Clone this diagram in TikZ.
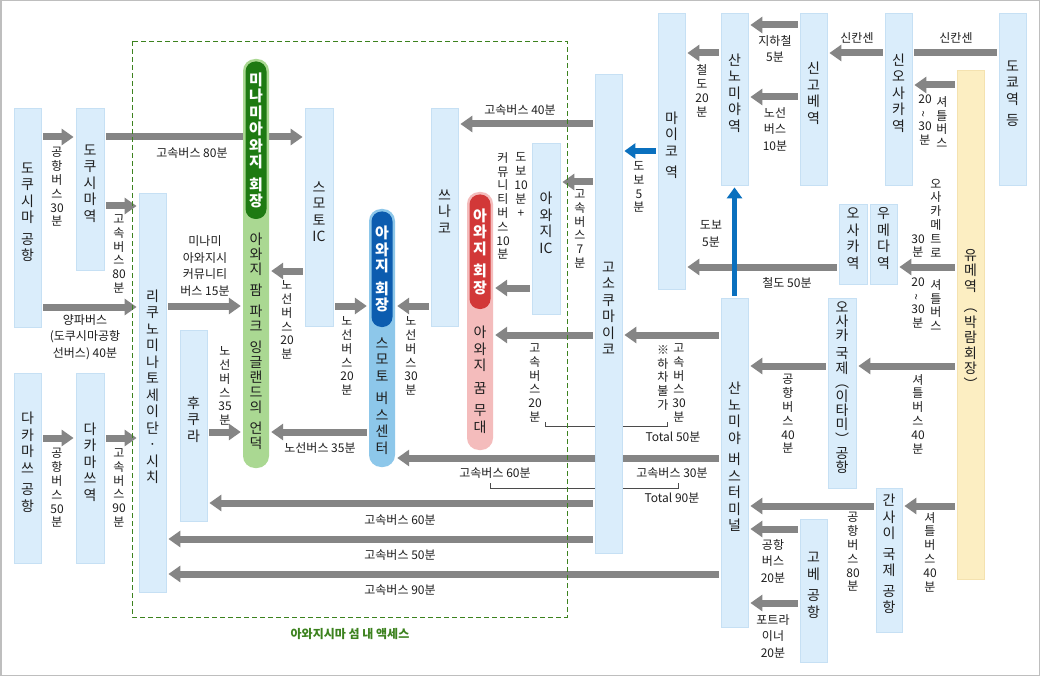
\documentclass[tikz,border=0pt]{standalone}
\usepackage{fontspec}
\setmainfont{Noto Sans CJK KR}
\usetikzlibrary{arrows.meta,fit}
\definecolor{bxf}{RGB}{218,237,251}
\definecolor{bxd}{RGB}{198,224,244}
\definecolor{yel}{RGB}{252,238,194}
\definecolor{yeld}{RGB}{244,226,176}
\definecolor{agray}{RGB}{133,133,133}
\definecolor{ablue}{RGB}{10,112,190}
\definecolor{gdark}{RGB}{30,122,18}
\definecolor{glight}{RGB}{170,216,146}
\definecolor{bdark}{RGB}{12,92,175}
\definecolor{blight}{RGB}{141,199,234}
\definecolor{rdark}{RGB}{210,56,56}
\definecolor{rlight}{RGB}{244,188,188}
\definecolor{framec}{RGB}{190,190,190}
\definecolor{dgreen}{RGB}{60,130,30}
\definecolor{txt}{RGB}{30,30,30}
\newcommand{\tl}{\rotatebox[origin=c]{90}{\textasciitilde}}
\pgfdeclarelayer{back}
\pgfdeclarelayer{bg}
\pgfsetlayers{back,bg,main}
\begin{document}
\begin{tikzpicture}[x=1pt,y=-1pt,
 box/.style={draw=bxd, fill=bxf, line width=0.8pt, inner sep=0pt, align=center, font=\fontsize{14}{16.5}\selectfont, text=txt},
 ybox/.style={box, draw=yeld, fill=yel},
 pillbase/.style={inner sep=0pt, rounded corners=12pt},
 pillhead/.style={inner sep=0pt, rounded corners=10pt},
 headtxt/.style={text=white, font=\bfseries\fontsize{15}{16.5}\selectfont, align=center, inner sep=0pt},
 pilltxt/.style={text=txt, font=\fontsize{14}{16.5}\selectfont, align=center, inner sep=0pt},
 lbl/.style={text=txt, font=\fontsize{12}{13.8}\selectfont, align=center, inner sep=0pt},
 hlbl/.style={text=txt, font=\fontsize{12}{16.5}\selectfont, align=center, inner sep=0pt},
 arr/.style={draw=agray, line width=7pt, -{Triangle[width=16pt,length=12pt]}, shorten <=2pt, shorten >=2pt},
 barr/.style={draw=ablue, line width=5.5pt, -{Triangle[width=15pt,length=11pt]}, shorten <=2pt, shorten >=2pt},
 plainbar/.style={draw=agray, line width=7pt, shorten <=2pt, shorten >=2pt},
 brk/.style={draw=txt!80, line width=0.8pt}
]
\useasboundingbox (0,0) rectangle (1040,676);
\begin{pgfonlayer}{back}
\fill[white] (0,0) rectangle (1040,676);
\draw[framec, line width=1.5pt] (0.75,0.75) rectangle (1039.25,675.25);
\end{pgfonlayer}

% ---------- boxes ----------
\node[box, fit={(14,108)(41,327)}] (tka) {도\\쿠\\시\\마\\[5pt]공\\항};
\node[box, fit={(76,108)(104,270)}] (tks) {도\\쿠\\시\\마\\역};
\node[box, fit={(14,373)(41,563)}] (tma) {다\\카\\마\\쓰\\[5pt]공\\항};
\node[box, fit={(76,373)(104,563)}] (tms) {다\\카\\마\\쓰\\역};
\node[box, fit={(139,193)(166,592)}] (rik) {리\\쿠\\노\\미\\나\\토\\세\\이\\단\\·\\시\\치};
\node[box, fit={(180,330)(207,521)}] (fuk) {후\\쿠\\라};
\node[box, fit={(305,108)(333,326)}] (smic) {스\\모\\토\\IC};
\node[box, fit={(431,108)(458,326)}] (tsu) {쓰\\나\\코};
\node[box, fit={(532,143)(560,314)}] (awic) {아\\와\\지\\IC};
\node[box, fit={(595,74)(622,553)}] (kms) {고\\소\\쿠\\마\\이\\코};
\node[box, fit={(658,13)(685,289)}] (mai) {마\\이\\코\\[5pt]역};
\node[box, fit={(721,13)(748,185)}] (sns) {산\\노\\미\\야\\역};
\node[box, fit={(800,13)(827,185)}] (skb) {신\\고\\베\\역};
\node[box, fit={(885,13)(912,185)}] (sos) {신\\오\\사\\카\\역};
\node[box, fit={(999,13)(1026,185)}] (tky) {도\\쿄\\역\\[5pt]등};
\node[ybox, fit={(957,70)(984,579)}, font=\fontsize{14}{15.5}\selectfont] (yum) {유\\메\\역\\[5pt]︵\\박\\람\\회\\장\\︶};
\node[box, fit={(839,204)(867,284)}] (osk) {오\\사\\카\\역};
\node[box, fit={(870,204)(897,284)}] (ume) {우\\메\\다\\역};
\node[box, fit={(828,298)(856,488)}, font=\fontsize{14}{14.2}\selectfont] (itm) {오\\사\\카\\[4pt]국\\제\\︵\\이\\타\\미\\︶\\공\\항};
\node[box, fit={(876,488)(902,632)}] (kix) {간\\사\\이\\[4pt]국\\제\\[4pt]공\\항};
\node[box, fit={(800,519)(827,662)}] (ukb) {고\\베\\[5pt]공\\항};
\node[box, fit={(721,298)(748,627)}] (snb) {산\\노\\미\\야\\[5pt]버\\스\\터\\미\\널};

% ---------- pills ----------
\node[pillbase, fill=glight, fit={(243,59)(269,468)}] (gp) {};
\node[pillhead, fill=gdark, fit={(245.5,61.5)(266.5,219)}] (gph) {};
\node[headtxt] at (gph) {미\\나\\미\\아\\와\\지\\[6pt]회\\장};
\node[pilltxt, font=\fontsize{14}{15}\selectfont] at (256,341) {아\\와\\지\\[6pt]팜\\[6pt]파\\크\\[6pt]잉\\글\\랜\\드\\의\\[6pt]언\\덕};

\node[pillbase, fill=blight, fit={(369,209)(395,467)}] (bp) {};
\node[pillhead, fill=bdark, fit={(371.5,211.5)(392.5,327)}] (bph) {};
\node[headtxt] at (bph) {아\\와\\지\\[6pt]회\\장};
\node[pilltxt] at (382,396) {스\\모\\토\\[6pt]버\\스\\센\\터};

\node[pillbase, fill=rlight, fit={(467,192)(493,450)}] (rp) {};
\node[pillhead, fill=rdark, fit={(469.5,194.5)(490.5,309)}] (rph) {};
\node[headtxt] at (rph) {아\\와\\지\\[6pt]회\\장};
\node[pilltxt] at (480,380) {아\\와\\지\\[6pt]꿈\\[6pt]무\\대};

% ---------- gray arrows and brackets (behind) ----------
\begin{pgfonlayer}{bg}
\draw[brk] (545,422) -- (545,426.5) -- (667,426.5) -- (667,422);
\draw[brk] (490,483) -- (490,488) -- (678,488) -- (678,483);
\draw[arr] (tka.east |- 0,137) -- (tks.west |- 0,137);
\draw[arr] (tks.east |- 0,137) -- (smic.west |- 0,137);
\draw[arr] (tks.east |- 0,206) -- (rik.west |- 0,206);
\draw[arr] (tka.east |- 0,307) -- (rik.west |- 0,307);
\draw[arr] (tma.east |- 0,438) -- (tms.west |- 0,438);
\draw[arr] (tms.east |- 0,438) -- (rik.west |- 0,438);
\draw[arr] (rik.east |- 0,306) -- (gp.west |- 0,306);
\draw[arr] (fuk.east |- 0,432) -- (gp.west |- 0,432);
\draw[arr] (smic.west |- 0,271) -- (gp.east |- 0,271);
\draw[arr] (bp.west |- 0,432) -- (gp.east |- 0,432);
\draw[arr] (smic.east |- 0,306) -- (bp.west |- 0,306);
\draw[arr] (tsu.west |- 0,306) -- (bp.east |- 0,306);
\draw[arr] (kms.west |- 0,124) -- (tsu.east |- 0,124);
\draw[arr] (kms.west |- 0,182) -- (awic.east |- 0,182);
\draw[arr] (awic.west |- 0,288) -- (rp.east |- 0,288);
\draw[arr] (kms.west |- 0,335) -- (rp.east |- 0,335);
\draw[arr] (snb.west |- 0,335) -- (kms.east |- 0,335);
\draw[arr] (snb.west |- 0,458) -- (bp.east |- 0,458);
\draw[arr] (kms.west |- 0,503) -- (fuk.east |- 0,503);
\draw[arr] (kms.west |- 0,539) -- (rik.east |- 0,539);
\draw[arr] (snb.west |- 0,574) -- (rik.east |- 0,574);
\draw[arr] (sns.west |- 0,53) -- (mai.east |- 0,53);
\draw[arr] (skb.west |- 0,25) -- (sns.east |- 0,25);
\draw[arr] (skb.west |- 0,97) -- (sns.east |- 0,97);
\draw[arr] (sos.west |- 0,53) -- (skb.east |- 0,53);
\draw[plainbar] (tky.west |- 0,53) -- (sos.east |- 0,53);
\draw[arr] (yum.west |- 0,85) -- (sos.east |- 0,85);
\draw[arr] (yum.west |- 0,267) -- (ume.east |- 0,267);
\draw[arr] (osk.west |- 0,267) -- (mai.east |- 0,267);
\draw[arr] (itm.west |- 0,366) -- (snb.east |- 0,366);
\draw[arr] (yum.west |- 0,366) -- (itm.east |- 0,366);
\draw[arr] (kix.west |- 0,506) -- (snb.east |- 0,506);
\draw[arr] (yum.west |- 0,506) -- (kix.east |- 0,506);
\draw[arr] (ukb.west |- 0,529) -- (snb.east |- 0,529);
\draw[arr] (ukb.west |- 0,603) -- (snb.east |- 0,603);
\end{pgfonlayer}

% ---------- island frame ----------
\draw[dgreen, line width=0.9pt, dash pattern=on 5pt off 3pt] (132,41) rectangle (567,617);
\node[text=dgreen, font=\bfseries\fontsize{12}{13}\selectfont, inner sep=0pt] (isl) at (350,634) {아와지시마 섬 내 액세스};

% ---------- blue arrows ----------
\draw[barr] (mai.west |- 0,151) -- (kms.east |- 0,151);
\draw[barr] (snb.north) -- (sns.south);

% ---------- labels ----------
\node[lbl] at (57,187) {공\\항\\버\\스\\30\\분};
\node[lbl] at (192,153) {고속버스 80분};
\node[lbl] at (119,254) {고\\속\\버\\스\\80\\분};
\node[hlbl] at (85,337) {양파버스\\(도쿠시마공항\\선버스) 40분};
\node[hlbl] at (205,266) {미나미\\아와지시\\커뮤니티\\버스 15분};
\node[lbl] at (287,320) {노\\선\\버\\스\\20\\분};
\node[lbl] at (57,488) {공\\항\\버\\스\\50\\분};
\node[lbl] at (119,488) {고\\속\\버\\스\\90\\분};
\node[lbl] at (225,386) {노\\선\\버\\스\\35\\분};
\node[lbl] at (320,448) {노선버스 35분};
\node[lbl] at (347,356) {노\\선\\버\\스\\20\\분};
\node[lbl] at (411,356) {노\\선\\버\\스\\30\\분};
\node[lbl] at (520,110) {고속버스 40분};
\node[lbl] at (521,185) {도\\보\\10\\분\\+};
\node[lbl] at (503,206) {커\\뮤\\니\\티\\버\\스\\10\\분};
\node[lbl] at (580,229) {고\\속\\버\\스\\7\\분};
\node[lbl] at (639,187) {도\\보\\5\\분};
\node[lbl] at (702,91) {철\\도\\20\\분};
\node[hlbl] at (775,49) {지하철\\5분};
\node[hlbl] at (775,129) {노선\\버스\\10분};
\node[lbl] at (857,38) {신칸센};
\node[lbl] at (956,38) {신칸센};
\node[lbl] at (942,122) {셔\\틀\\버\\스};
\node[lbl] at (925,120) {20\\\tl\\30\\분};
\node[lbl] at (936,218) {오\\사\\카\\메\\트\\로};
\node[lbl] at (918,246) {30\\분};
\node[lbl] at (936,305) {셔\\틀\\버\\스};
\node[lbl] at (918,303) {20\\\tl\\30\\분};
\node[lbl] at (787,283) {철도 50분};
\node[hlbl] at (711,234) {도보\\5분};
\node[lbl] at (788,414) {공\\항\\버\\스\\40\\분};
\node[lbl] at (918,414) {셔\\틀\\버\\스\\40\\분};
\node[lbl] at (853,552) {공\\항\\버\\스\\80\\분};
\node[lbl] at (930,552) {셔\\틀\\버\\스\\40\\분};
\node[hlbl] at (773,561) {공항\\버스\\20분};
\node[hlbl] at (773,636) {포트라\\이너\\20분};
\node[lbl] at (535,383) {고\\속\\버\\스\\20\\분};
\node[lbl] at (663,378) {※\\하\\차\\불\\가};
\node[lbl] at (679,383) {고\\속\\버\\스\\30\\분};
\node[lbl] at (673,437) {Total 50분};
\node[lbl] at (495,473) {고속버스 60분};
\node[lbl] at (672,473) {고속버스 30분};
\node[lbl] at (672,498) {Total 90분};
\node[lbl] at (400,520) {고속버스 60분};
\node[lbl] at (400,555) {고속버스 50분};
\node[lbl] at (400,590) {고속버스 90분};
\end{tikzpicture}
\end{document}
